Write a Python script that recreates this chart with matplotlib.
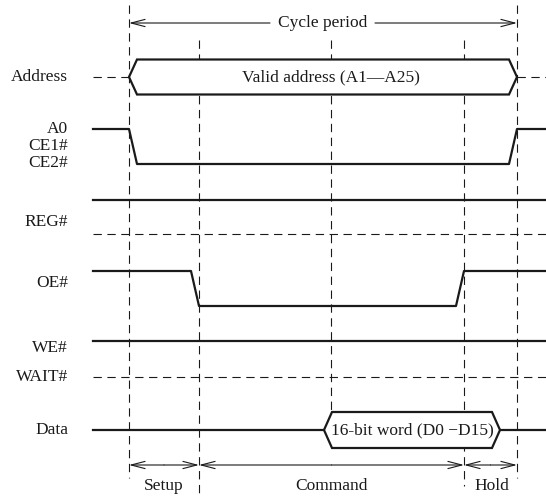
import matplotlib
matplotlib.use("Agg")
import matplotlib.pyplot as plt
from matplotlib.patches import Polygon

plt.rcParams['font.family'] = ['Liberation Serif', 'DejaVu Serif']
plt.rcParams['lines.scale_dashes'] = False

INK = '#1a1a1a'
FS = 12.5

# ---- timeline (time axis, in drawing units) ----
x_left = 93           # start of traces
x_right = 546         # end of traces
t_marks = [129, 199, 331, 464, 517]        # cycle start, setup end, mid, command end, cycle end
mark_top = [5, 40, 40, 40, 5]
mark_bottom = [478, 495, 411, 486, 478]
edge = 8              # transition width

# ---- signal rows (y levels) ----
signal_names = ['Address', 'A0', 'CE1#', 'CE2#', 'REG#', 'OE#', 'WE#', 'WAIT#', 'Data']
label_y = [77, 129, 146, 163, 222, 283, 348, 377, 430]

addr_y, addr_half = 77, 17.5
ce_high, ce_low = 129, 164
reg_high, reg_dash = 200, 234
oe_high, oe_low = 271, 306
we_y, wait_y = 341, 377
data_y, data_half = 430, 18

addr_text = 'Valid address (A1\u2014A25)'
data_text = '16-bit word (D0 \u2212D15)'
data_start, data_end = 324, 500

phase_names = ['Setup', 'Command', 'Hold']
phase_bounds = [129, 199, 464, 517]
phase_label_x = [164, 331, 492]

fig = plt.figure(figsize=(5.46, 4.97), dpi=100)
ax = fig.add_axes([0, 0, 1, 1])
ax.set_xlim(0, 546)
ax.set_ylim(497, 0)
ax.axis('off')

DASH = (0, (6, 4))
thin = 0.8
thick = 1.6

# vertical reference lines
for x, y0, y1 in zip(t_marks, mark_top, mark_bottom):
    ax.plot([x, x], [y0, y1], color=INK, lw=thin, ls=DASH, zorder=1)

# labels
for name, y in zip(signal_names, label_y):
    ax.text(68, y, name, ha='right', va='center', fontsize=FS, color=INK)

# Address bus
t0, t4 = t_marks[0], t_marks[4]
ax.plot([x_left, t0], [addr_y, addr_y], color=INK, lw=thin, ls=DASH, zorder=1)
ax.plot([t4, x_right], [addr_y, addr_y], color=INK, lw=thin, ls=DASH, zorder=1)
addr_poly = Polygon([(t0, addr_y), (t0 + edge, addr_y - addr_half), (t4 - edge, addr_y - addr_half),
                     (t4, addr_y), (t4 - edge, addr_y + addr_half), (t0 + edge, addr_y + addr_half)],
                    closed=True, facecolor='white', edgecolor=INK, lw=thick, joinstyle='miter', zorder=3)
ax.add_patch(addr_poly)
ax.text((t0 + t4) / 2 + 8, addr_y, addr_text, ha='center', va='center', fontsize=FS, color=INK, zorder=4)

# A0 / CE1# / CE2#
ax.plot([x_left, t0, t0 + edge, t4 - edge, t4, x_right],
        [ce_high, ce_high, ce_low, ce_low, ce_high, ce_high], color=INK, lw=thick, zorder=3)

# REG#
ax.plot([x_left, x_right], [reg_high, reg_high], color=INK, lw=thick, zorder=3)
ax.plot([x_left, x_right], [reg_dash, reg_dash], color=INK, lw=thin, ls=DASH, zorder=2)

# OE#
t1, t3 = t_marks[1], t_marks[3]
ax.plot([x_left, t1 - edge, t1, t3 - edge, t3, x_right],
        [oe_high, oe_high, oe_low, oe_low, oe_high, oe_high], color=INK, lw=thick, zorder=3)

# WE#, WAIT#
ax.plot([x_left, x_right], [we_y, we_y], color=INK, lw=thick, zorder=3)
ax.plot([x_left, x_right], [wait_y, wait_y], color=INK, lw=thin, ls=DASH, zorder=2)

# Data
ax.plot([x_left, data_start], [data_y, data_y], color=INK, lw=thick, zorder=3)
ax.plot([data_end, x_right], [data_y, data_y], color=INK, lw=thick, zorder=3)
data_poly = Polygon([(data_start, data_y), (data_start + edge, data_y - data_half),
                     (data_end - edge, data_y - data_half), (data_end, data_y),
                     (data_end - edge, data_y + data_half), (data_start + edge, data_y + data_half)],
                    closed=True, facecolor='white', edgecolor=INK, lw=thick, joinstyle='miter', zorder=3)
ax.add_patch(data_poly)
ax.text((data_start + data_end) / 2, data_y, data_text, ha='center', va='center', fontsize=FS,
        color=INK, zorder=4)

arrow_style = '->,head_length=10,head_width=2.6'
def arrow(x_from, x_to, y):
    ax.annotate('', xy=(x_to, y), xytext=(x_from, y),
                arrowprops=dict(arrowstyle=arrow_style, lw=thin, color=INK,
                                shrinkA=0, shrinkB=0, mutation_scale=1), zorder=2)

# Cycle period
cyc_y = 23
ax.text(323, cyc_y, 'Cycle period', ha='center', va='center', fontsize=FS, color=INK)
arrow(270, t0, cyc_y)
arrow(375, t4, cyc_y)

# Phases
ph_y = 465
for name, a, b, lx in zip(phase_names, phase_bounds[:-1], phase_bounds[1:], phase_label_x):
    mid = (a + b) / 2
    arrow(mid, a, ph_y)
    arrow(mid, b, ph_y)
    ax.text(lx, 486, name, ha='center', va='center', fontsize=FS, color=INK)

fig.savefig('out.png', dpi=100)
